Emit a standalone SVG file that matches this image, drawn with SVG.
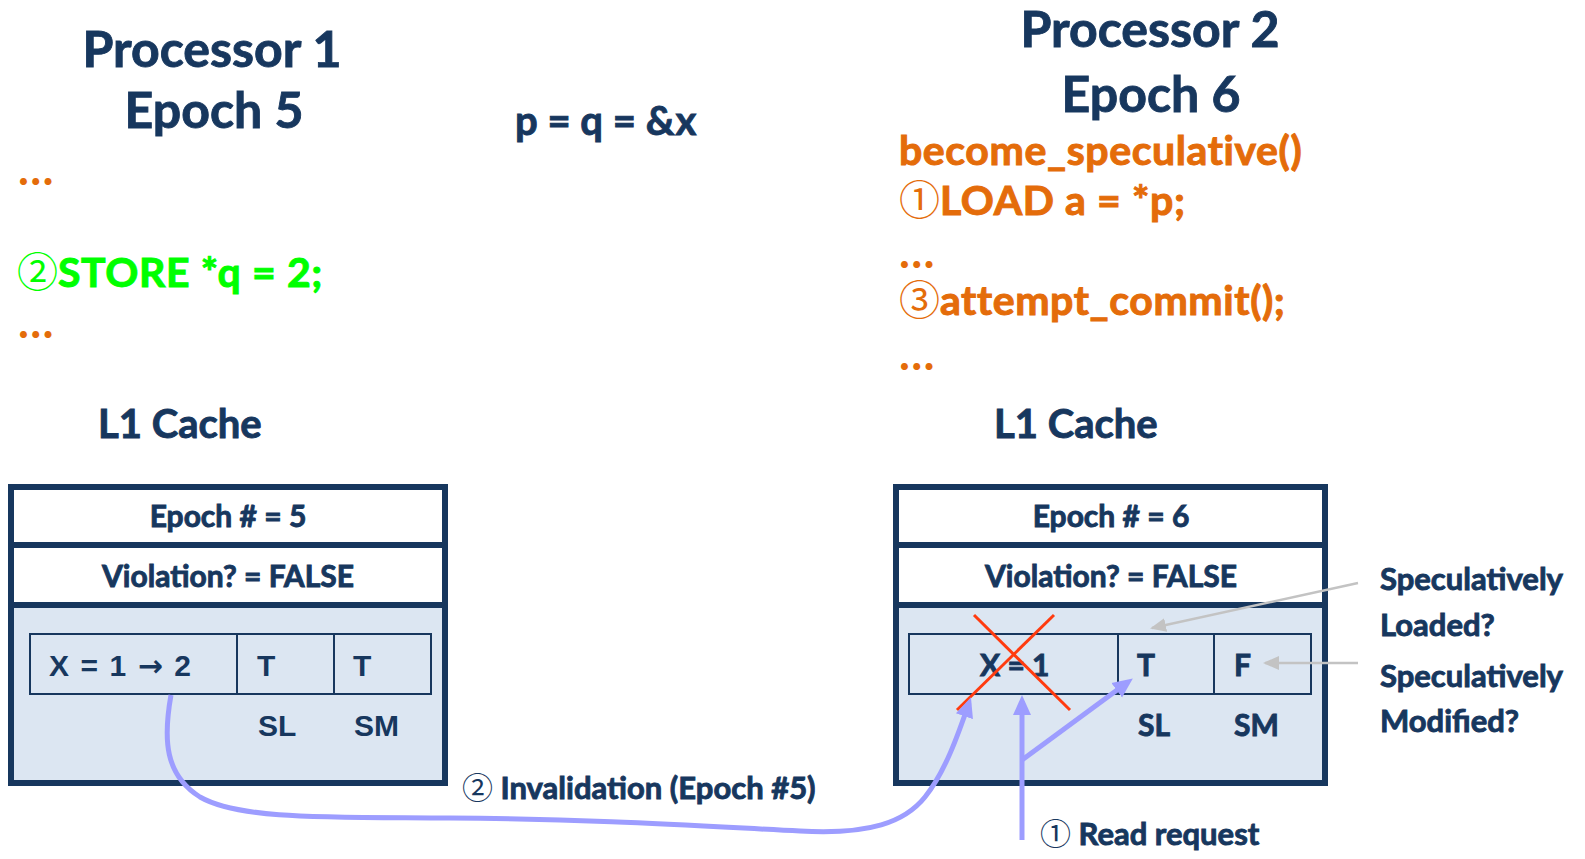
<svg xmlns="http://www.w3.org/2000/svg" width="1585" height="859" viewBox="0 0 1585 859">
  <style>
    .t { font-family: "Lato", "Open Sans", sans-serif; font-weight: 700; fill: #17375e; stroke: #17375e; stroke-width: 0.9; }
    .arial { font-family: "Liberation Sans", Arial, sans-serif; font-weight: 700; fill: #17375e; }
    .arrowglyph { font-family: "DejaVu Sans", sans-serif; font-weight: 700; }
    .code { font-family: "Lato", "Open Sans", sans-serif; font-weight: 700; font-size: 41px; letter-spacing: 0.6px; fill: #e46c0a; stroke: #e46c0a; stroke-width: 1; }
    .green { fill: #00ff00; stroke: #00ff00; }
    .dots { font-family: "Lato", "Open Sans", sans-serif; font-weight: 700; font-size: 46px; fill: #e46c0a; }
    .circ { font-family: "Noto Sans CJK JP", "DejaVu Sans", sans-serif; font-weight: 400; stroke: none; letter-spacing: 0; }
    .frame { stroke: #17375e; stroke-width: 6; }
    .row { fill: none; stroke: #17375e; stroke-width: 2; }
    .blue { fill: none; stroke: #9d9dff; stroke-width: 5; }
    .gray { fill: none; stroke: #c3c3c3; stroke-width: 2.5; }
    .cross { stroke: #ff3b0f; stroke-width: 3; }
  </style>
  <defs>
    <marker id="blueHead" markerUnits="userSpaceOnUse" markerWidth="22" markerHeight="20" refX="14" refY="10" orient="auto">
      <path d="M0,1 L20,10 L0,19 Z" fill="#9d9dff"/>
    </marker>
    <marker id="grayHead" markerUnits="userSpaceOnUse" markerWidth="18" markerHeight="16" refX="14" refY="8" orient="auto">
      <path d="M0,1 L16,8 L0,15 Z" fill="#c3c3c3"/>
    </marker>
  </defs>

  <!-- Processor 1 -->
  <g id="proc1">
    <text class="t" x="212" y="67" font-size="50" text-anchor="middle">Processor 1</text>
    <text class="t" x="214" y="128" font-size="50" text-anchor="middle">Epoch 5</text>
    <text class="dots" x="18" y="185">…</text>
    <text class="code green" x="17" y="287"><tspan class="circ">②</tspan>STORE *q = 2;</text>
    <text class="dots" x="18" y="338">…</text>
  </g>

  <!-- shared pointer note -->
  <g id="shared">
    <text class="t" x="515" y="135" font-size="40">p = q = &amp;x</text>
  </g>

  <!-- Processor 2 -->
  <g id="proc2">
    <text class="t" x="1150" y="47" font-size="50" text-anchor="middle">Processor 2</text>
    <text class="t" x="1151" y="112" font-size="50" text-anchor="middle">Epoch 6</text>
    <text class="code" x="899" y="165">become_speculative()</text>
    <text class="code" x="899" y="215"><tspan class="circ">①</tspan>LOAD a = *p;</text>
    <text class="dots" x="899" y="268">…</text>
    <text class="code" x="899" y="315"><tspan class="circ">③</tspan>attempt_commit();</text>
    <text class="dots" x="899" y="370">…</text>
  </g>

  <!-- L1 cache of processor 1 -->
  <g id="cache1">
    <text class="t" x="98" y="438" font-size="40">L1 Cache</text>
    <rect class="frame" x="11" y="487" width="434" height="296" fill="#dce6f2"/>
    <rect class="frame" x="11" y="487" width="434" height="58" fill="#ffffff"/>
    <rect class="frame" x="11" y="545" width="434" height="60" fill="#ffffff"/>
    <text class="t" x="228" y="527" font-size="30" text-anchor="middle">Epoch # = 5</text>
    <text class="t" x="228" y="587" font-size="30" text-anchor="middle">Violation? = FALSE</text>
    <rect class="row" x="30" y="634" width="401" height="60"/>
    <line class="row" x1="237" y1="634" x2="237" y2="694"/>
    <line class="row" x1="334" y1="634" x2="334" y2="694"/>
    <text class="arial" x="49" y="676" font-size="30" textLength="142">X = 1 <tspan class="arrowglyph">→</tspan> 2</text>
    <text class="arial" x="257" y="676" font-size="30">T</text>
    <text class="arial" x="353" y="676" font-size="30">T</text>
    <text class="arial" x="258" y="736" font-size="30">SL</text>
    <text class="arial" x="354" y="736" font-size="30">SM</text>
  </g>

  <!-- L1 cache of processor 2 -->
  <g id="cache2">
    <text class="t" x="994" y="438" font-size="40">L1 Cache</text>
    <rect class="frame" x="896" y="487" width="429" height="296" fill="#dce6f2"/>
    <rect class="frame" x="896" y="487" width="429" height="58" fill="#ffffff"/>
    <rect class="frame" x="896" y="545" width="429" height="60" fill="#ffffff"/>
    <text class="t" x="1111" y="527" font-size="30" text-anchor="middle">Epoch # = 6</text>
    <text class="t" x="1111" y="587" font-size="30" text-anchor="middle">Violation? = FALSE</text>
    <rect class="row" x="909" y="634" width="402" height="60"/>
    <line class="row" x1="1118" y1="634" x2="1118" y2="694"/>
    <line class="row" x1="1214" y1="634" x2="1214" y2="694"/>
    <text class="t" x="980" y="676" font-size="30">X = 1</text>
    <text class="t" x="1137" y="676" font-size="30">T</text>
    <text class="t" x="1234" y="676" font-size="30">F</text>
    <text class="t" x="1138" y="736" font-size="30">SL</text>
    <text class="t" x="1234" y="736" font-size="30">SM</text>
    <line class="cross" x1="974" y1="615" x2="1070" y2="710"/>
    <line class="cross" x1="1054" y1="615" x2="957" y2="710"/>
  </g>

  <!-- bit legend -->
  <g id="legend">
    <text class="t" x="1380" y="590" font-size="31">Speculatively</text>
    <text class="t" x="1380" y="636" font-size="31">Loaded?</text>
    <text class="t" x="1380" y="687" font-size="31">Speculatively</text>
    <text class="t" x="1380" y="732" font-size="31">Modified?</text>
  </g>

  <!-- connectors -->
  <g id="connectors">
    <path class="gray" d="M1358,583 L1152,628" marker-end="url(#grayHead)"/>
    <path class="gray" d="M1358,663 L1265,663" marker-end="url(#grayHead)"/>
    <path class="blue" d="M171,695 C163,740 165,775 200,797 C240,820 330,817 450,818 C600,819 700,826 800,831 C870,835 905,822 925,797 C945,772 958,735 969,703" marker-end="url(#blueHead)"/>
    <path class="blue" d="M1022,840 L1022,701" marker-end="url(#blueHead)"/>
    <path class="blue" d="M1022,760 L1128,682" marker-end="url(#blueHead)"/>
  </g>

  <!-- connector labels -->
  <g id="labels">
    <text class="t" x="462" y="799" font-size="31"><tspan class="circ" fill="#17375e">②</tspan> Invalidation (Epoch #5)</text>
    <text class="t" x="1040" y="845" font-size="31"><tspan class="circ" fill="#17375e">①</tspan> Read request</text>
  </g>
</svg>
